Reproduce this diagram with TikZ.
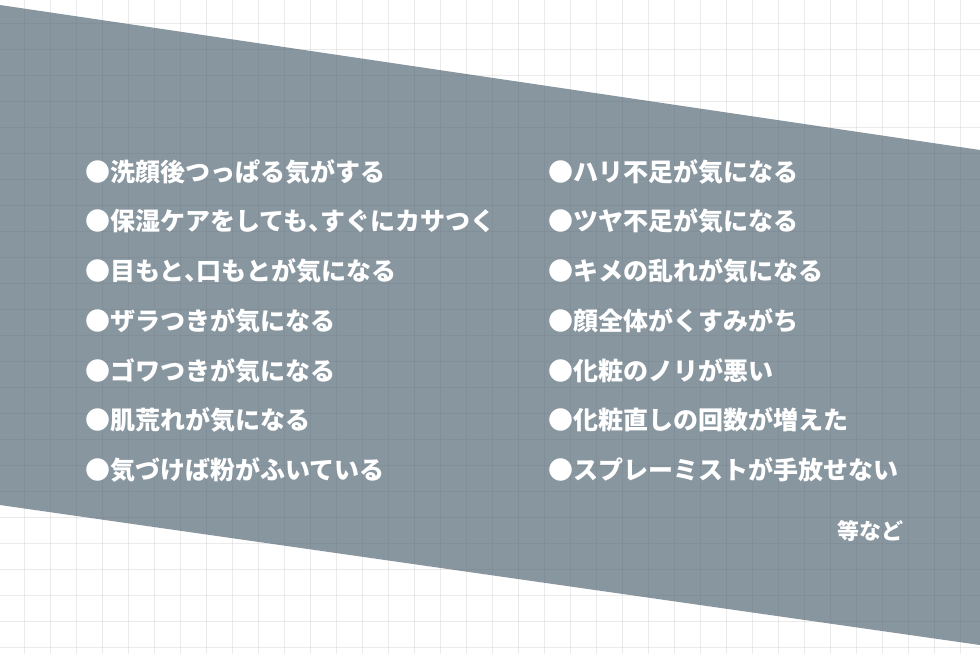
\documentclass[tikz,border=0pt]{standalone}
\usepackage{fontspec}
\newfontfamily\cjk{Noto Sans CJK JP}
\definecolor{band}{HTML}{8896A0}
\newcommand{\hcomma}{\makebox[12pt][l]{、}}
\tikzset{item/.style={anchor=west,text=white,font=\cjk\fontsize{25}{27}\selectfont\bfseries,inner sep=0pt}}
\begin{document}
\begin{tikzpicture}[x=1pt,y=-1pt]
\useasboundingbox (0,0) rectangle (980,654);
\fill[white] (0,0) rectangle (980,654);
\fill[band] (0,5) -- (980,150) -- (980,645) -- (0,505) -- cycle;
\begin{scope}
\clip (0,0) rectangle (980,654);
\foreach \i in {0,...,37} {\draw[black!60,opacity=0.13,line width=1pt] (24.5+26*\i,0) -- (24.5+26*\i,654);}
\foreach \j in {0,...,25} {\draw[black!60,opacity=0.13,line width=1pt] (0,23+26*\j) -- (980,23+26*\j);}
\end{scope}
\node[item] (l1) at (85,172) {●洗顔後つっぱる気がする};
\node[item] (l2) at (85,221) {●保湿ケアをしても\hcomma すぐにカサつく};
\node[item] (l3) at (85,271) {●目もと\hcomma 口もとが気になる};
\node[item] (l4) at (85,321) {●ザラつきが気になる};
\node[item] (l5) at (85,371) {●ゴワつきが気になる};
\node[item] (l6) at (85,420) {●肌荒れが気になる};
\node[item] (l7) at (85,470) {●気づけば粉がふいている};
\node[item] (r1) at (548,172) {●ハリ不足が気になる};
\node[item] (r2) at (548,221) {●ツヤ不足が気になる};
\node[item] (r3) at (548,271) {●キメの乱れが気になる};
\node[item] (r4) at (548,321) {●顔全体がくすみがち};
\node[item] (r5) at (548,371) {●化粧のノリが悪い};
\node[item] (r6) at (548,420) {●化粧直しの回数が増えた};
\node[item] (r7) at (548,470) {●スプレーミストが手放せない};
\node[item,anchor=east,font=\cjk\fontsize{22}{24}\selectfont\bfseries] (etc) at (904,531) {等など};
\end{tikzpicture}
\end{document}
